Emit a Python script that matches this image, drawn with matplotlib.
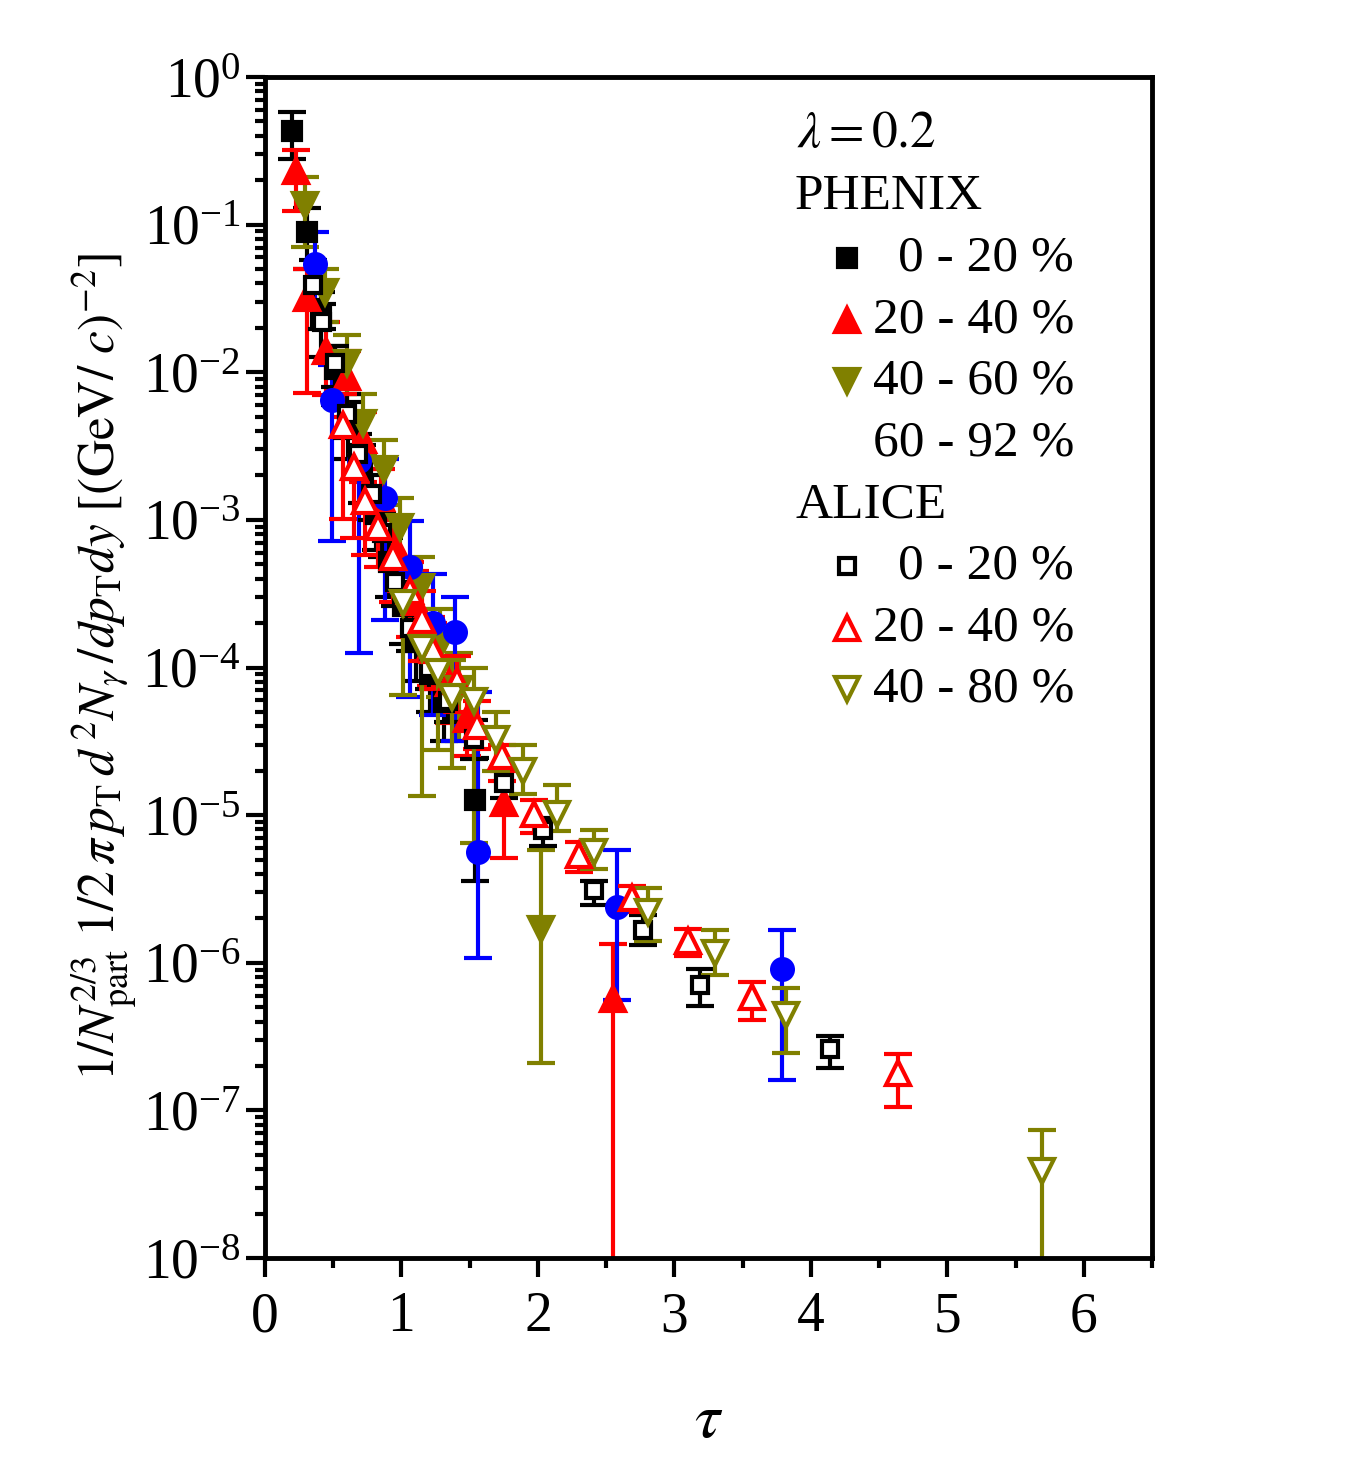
import numpy as np
import matplotlib
matplotlib.use('Agg')
import matplotlib.pyplot as plt
from matplotlib.ticker import LogLocator, MultipleLocator

plt.rcParams['font.family'] = ['Liberation Serif', 'DejaVu Serif']
plt.rcParams['mathtext.fontset'] = 'stix'
plt.rcParams['axes.unicode_minus'] = False

# PHENIX 0-20 % (filled squares)
tau_p020 = [0.20, 0.31, 0.41, 0.51, 0.61, 0.71, 0.81, 0.91, 1.01, 1.11, 1.21, 1.31, 1.54]
y_p020 = [4.3e-1, 8.9e-2, 2.4e-2, 1.05e-2, 4.4e-3, 2.2e-3, 1.1e-3, 5.2e-4, 2.6e-4, 1.5e-4, 9.0e-5, 5.8e-5, 1.26e-5]
hi_p020 = [5.8e-1, 1.29e-1, 3.5e-2, 1.5e-2, 6.3e-3, 3.2e-3, 1.6e-3, 7.6e-4, 3.8e-4, 2.2e-4, 1.3e-4, 8.5e-5, 2.45e-5]
lo_p020 = [2.8e-1, 5.0e-2, 1.26e-2, 6.0e-3, 2.6e-3, 1.3e-3, 6.3e-4, 3.0e-4, 1.45e-4, 8.1e-5, 5.0e-5, 3.2e-5, 3.6e-6]

# PHENIX 20-40 % (filled up triangles)
tau_p2040 = [0.23, 0.31, 0.45, 0.60, 0.72, 0.85, 0.97, 1.10, 1.22, 1.35, 1.48, 1.75, 2.55]
y_p2040 = [2.3e-1, 3.2e-2, 1.4e-2, 9.3e-3, 3.5e-3, 1.4e-3, 6.3e-4, 2.8e-4, 1.4e-4, 7.9e-5, 4.5e-5, 1.2e-5, 5.7e-7]
hi_p2040 = [3.2e-1, 5.0e-2, 2.2e-2, 1.4e-2, 5.4e-3, 2.2e-3, 1.0e-3, 4.5e-4, 2.2e-4, 1.2e-4, 6.8e-5, 2.0e-5, 1.35e-6]
lo_p2040 = [1.23e-1, 7.2e-3, 7.0e-3, 5.0e-3, 1.8e-3, 7.5e-4, 3.3e-4, 1.5e-4, 7.5e-5, 4.2e-5, 2.5e-5, 5.1e-6, 1e-9]

# PHENIX 40-60 % (filled down triangles)
tau_p4060 = [0.29, 0.44, 0.60, 0.72, 0.87, 0.99, 1.14, 1.28, 1.42, 2.02]
y_p4060 = [1.35e-1, 3.5e-2, 1.15e-2, 4.5e-3, 2.2e-3, 8.9e-4, 3.5e-4, 1.4e-4, 7.1e-5, 1.7e-6]
hi_p4060 = [2.1e-1, 5.0e-2, 1.8e-2, 7.1e-3, 3.5e-3, 1.4e-3, 5.6e-4, 2.5e-4, 1.26e-4, 5.8e-6]
lo_p4060 = [7.1e-2, 2.2e-2, 7.1e-3, 2.8e-3, 1.26e-3, 4.5e-4, 1.6e-4, 6.3e-5, 3.2e-5, 2.1e-7]

# PHENIX 60-92 % (circles)
tau_p6092 = [0.37, 0.49, 0.69, 0.88, 1.06, 1.23, 1.39, 1.56, 2.58, 3.79]
y_p6092 = [5.4e-2, 6.5e-3, 2.5e-3, 1.41e-3, 4.8e-4, 2.0e-4, 1.74e-4, 5.6e-6, 2.4e-6, 9.1e-7]
hi_p6092 = [8.9e-2, 1.12e-2, 5.0e-3, 2.6e-3, 9.8e-4, 4.3e-4, 3.0e-4, 6.8e-5, 5.8e-6, 1.66e-6]
lo_p6092 = [2.8e-2, 7.2e-4, 1.26e-4, 2.1e-4, 6.3e-5, 4.8e-5, 3.2e-5, 1.07e-6, 5.6e-7, 1.6e-7]

# ALICE 0-20 % (open squares)
tau_a020 = [0.35, 0.42, 0.51, 0.60, 0.68, 0.785, 0.86, 0.95, 1.06, 1.20, 1.34, 1.53, 1.75, 2.04, 2.41, 2.77, 3.19, 4.14]
y_a020 = [3.9e-2, 2.2e-2, 1.15e-2, 5.2e-3, 2.8e-3, 1.5e-3, 8.1e-4, 3.8e-4, 1.86e-4, 1.0e-4, 5.9e-5, 3.3e-5, 1.66e-5, 7.9e-6, 3.1e-6, 1.66e-6, 7.1e-7, 2.6e-7]
hi_a020 = [5.8e-2, 2.9e-2, 1.5e-2, 7.1e-3, 3.8e-3, 2.0e-3, 1.1e-3, 5.2e-4, 2.5e-4, 1.35e-4, 7.9e-5, 4.4e-5, 2.1e-5, 9.5e-6, 3.6e-6, 2.1e-6, 9.1e-7, 3.2e-7]
lo_a020 = [3.1e-2, 1.95e-2, 7.9e-3, 3.6e-3, 1.9e-3, 1.0e-3, 5.6e-4, 2.6e-4, 1.3e-4, 7.1e-5, 4.3e-5, 2.4e-5, 1.3e-5, 6.2e-6, 2.45e-6, 1.32e-6, 5.1e-7, 1.95e-7]

# ALICE 20-40 % (open up triangles)
tau_a2040 = [0.57, 0.65, 0.73, 0.83, 0.94, 1.06, 1.15, 1.23, 1.41, 1.55, 1.74, 1.97, 2.30, 2.69, 3.10, 3.57, 4.64]
y_a2040 = [4.4e-3, 2.3e-3, 1.35e-3, 8.9e-4, 5.6e-4, 3.3e-4, 2.1e-4, 1.32e-4, 8.1e-5, 4.0e-5, 2.5e-5, 1.02e-5, 5.4e-6, 2.75e-6, 1.41e-6, 5.9e-7, 1.8e-7]
hi_a2040 = [7.1e-3, 3.8e-3, 2.2e-3, 1.4e-3, 8.9e-4, 5.2e-4, 3.3e-4, 2.0e-4, 1.2e-4, 5.9e-5, 3.0e-5, 1.26e-5, 6.6e-6, 3.3e-6, 1.7e-6, 7.4e-7, 2.4e-7]
lo_a2040 = [1.02e-3, 7.6e-4, 5.8e-4, 4.8e-4, 2.8e-4, 1.6e-4, 1.1e-4, 7.1e-5, 5.0e-5, 2.8e-5, 1.7e-5, 7.6e-6, 4.1e-6, 2.2e-6, 1.12e-6, 4.1e-7, 1.05e-7]

# ALICE 40-80 % (open down triangles)
tau_a4080 = [1.01, 1.15, 1.27, 1.37, 1.53, 1.69, 1.89, 2.14, 2.41, 2.81, 3.30, 3.82, 5.69]
y_a4080 = [2.75e-4, 1.35e-4, 9.3e-5, 6.3e-5, 5.9e-5, 3.3e-5, 2.0e-5, 1.02e-5, 5.6e-6, 2.2e-6, 1.17e-6, 4.4e-7, 3.9e-8]
hi_a4080 = [4.9e-4, 2.5e-4, 1.66e-4, 1.12e-4, 1.0e-4, 5.0e-5, 3.0e-5, 1.6e-5, 7.9e-6, 3.2e-6, 1.66e-6, 6.8e-7, 7.4e-8]
lo_a4080 = [6.5e-5, 1.35e-5, 2.75e-5, 2.1e-5, 6.5e-6, 2.0e-5, 1.4e-5, 7.8e-6, 4.3e-6, 1.4e-6, 8.3e-7, 2.45e-7, 1e-9]

olive = '#808000'

# drawn in this order: PHENIX first, ALICE on top
series = [
    (tau_p020, y_p020, lo_p020, hi_p020, 's', 'black', True, 13),
    (tau_p2040, y_p2040, lo_p2040, hi_p2040, '^', 'red', True, 17),
    (tau_p4060, y_p4060, lo_p4060, hi_p4060, 'v', olive, True, 17),
    (tau_p6092, y_p6092, lo_p6092, hi_p6092, 'o', 'blue', True, 15),
    (tau_a020, y_a020, lo_a020, hi_a020, 's', 'black', False, 11),
    (tau_a2040, y_a2040, lo_a2040, hi_a2040, '^', 'red', False, 17),
    (tau_a4080, y_a4080, lo_a4080, hi_a4080, 'v', olive, False, 17),
]

fig = plt.figure(figsize=(13.61, 14.78), dpi=100)
ax = fig.add_axes([0.1947, 0.1488, 0.6518, 0.7991])

for tau, y, lo, hi, mk, col, filled, ms in series:
    y = np.array(y)
    yerr = [y - np.array(lo), np.array(hi) - y]
    ax.errorbar(tau, y, yerr=yerr, fmt=mk, color=col, ecolor=col,
                mfc=col if filled else 'white', mec=col, ms=ms, mew=3,
                elinewidth=3, capsize=10, capthick=3.5)

ax.set_yscale('log')
ax.set_xlim(0, 6.5)
ax.set_ylim(1e-8, 1)
ax.xaxis.set_major_locator(MultipleLocator(1))
ax.xaxis.set_minor_locator(MultipleLocator(0.5))
ax.yaxis.set_major_locator(LogLocator(base=10, numticks=20))
ax.yaxis.set_minor_locator(LogLocator(base=10, subs=np.arange(2, 10), numticks=20))
ax.tick_params(which='both', direction='out', top=False, right=False, width=3)
ax.tick_params(which='major', length=14, labelsize=40)
ax.tick_params(axis='x', which='major', pad=10)
ax.tick_params(which='minor', length=7)
for s in ax.spines.values():
    s.set_linewidth(3.5)

ax.set_xlabel(r'$\tau$', fontsize=46, labelpad=36)
ax.set_ylabel(r'$1/N_{\mathrm{part}}^{2/3}\ 1/2\,\pi\, p_{\mathrm{T}}\, d^{\,2}N_{\gamma}\,/dp_{\mathrm{T}}dy\ [(\mathrm{GeV}/\ c)^{-2}]$',
              fontsize=37, labelpad=2)

# legend drawn by hand
def axpos(px, py):
    return (px - 265) / 887, (1258 - py) / 1181

fs = 37
ax.text(*axpos(797, 135), r'$\lambda = 0.2$', fontsize=fs, va='center', ha='left', transform=ax.transAxes)
ax.text(*axpos(795, 197), 'PHENIX', fontsize=fs, va='center', ha='left', transform=ax.transAxes)
ax.text(*axpos(795, 505), 'ALICE', fontsize=fs, va='center', ha='left', transform=ax.transAxes)

leg_rows = [
    (258, 's', 'black', True, 13, '0 - 20 %'),
    (320, '^', 'red', True, 17, '20 - 40 %'),
    (381, 'v', olive, True, 17, '40 - 60 %'),
    (443, None, None, True, 0, '60 - 92 %'),
    (566, 's', 'black', False, 11, '0 - 20 %'),
    (628, '^', 'red', False, 17, '20 - 40 %'),
    (689, 'v', olive, False, 17, '40 - 80 %'),
]
for py, mk, col, filled, ms, lab in leg_rows:
    x, y = axpos(847, py)
    if mk is not None:
        ax.plot([x], [y], marker=mk, ms=ms, mew=3, color=col,
                mfc=col if filled else 'white', mec=col,
                transform=ax.transAxes, clip_on=False)
    ax.text(*axpos(1074, py), lab, fontsize=fs, va='center', ha='right', transform=ax.transAxes)

fig.savefig('out.png', dpi=100)
